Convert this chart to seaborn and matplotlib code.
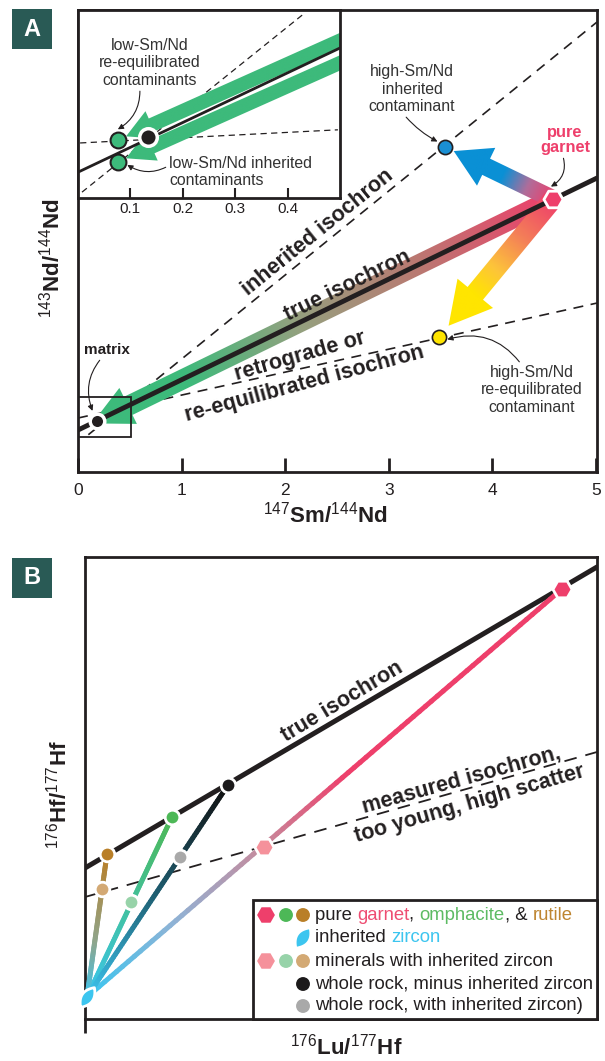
import numpy as np
import matplotlib
matplotlib.use("Agg")
import matplotlib.pyplot as plt
import seaborn as sns
from matplotlib.colors import LinearSegmentedColormap
from matplotlib.patches import Polygon, Rectangle
from matplotlib.collections import LineCollection
from matplotlib.markers import MarkerStyle
from matplotlib.transforms import Affine2D
from matplotlib.path import Path

# ---------------- panel A: Sm-Nd isochron (y in arbitrary units) ----------------
a_xlim = [0, 5.01]
a_ylim = [0, 4.46]
a_xticks = [0, 1, 2, 3, 4, 5]
matrix_pt = [0.18, 0.49]
garnet_pt = [4.585, 2.635]
inh_contam_pt = [3.54, 3.14]
reeq_contam_pt = [3.485, 1.30]
true_iso_x = [0, 5.01]
true_iso_y = [0.405, 2.838]
inh_iso_x = [0.1, 5.01]
inh_iso_y = [0.36, 4.344]
retro_iso_x = [0, 5.01]
retro_iso_y = [0.521, 1.631]
zoom_box_x = [0, 0.51]
zoom_box_y = [0.338, 0.724]

# inset = zoom of the small box
ins_xlim = [0, 0.5]
ins_ylim = [0.338, 0.724]
ins_xticks = [0.1, 0.2, 0.3, 0.4]
ins_matrix = [0.134, 0.463]
ins_reeq = [0.076, 0.457]
ins_inh = [0.076, 0.412]
ins_true_x = [0, 0.5]
ins_true_y = [0.391, 0.646]
ins_inh_x = [0.0076, 0.433]
ins_inh_y = [0.350, 0.718]
ins_retro_x = [0.004, 0.496]
ins_retro_y = [0.451, 0.478]
ins_arrow_from = [[0.52, 0.671], [0.52, 0.625]]

# ---------------- panel B: Lu-Hf (arbitrary units) ----------------
b_xlim = [0, 5.12]
b_ylim = [0, 4.62]
zircon_pt = [0.02, 0.22]
pure_x = [4.77, 0.87, 0.22]        # garnet, omphacite, rutile
pure_y = [4.30, 2.02, 1.65]
mixed_x = [1.79, 0.46, 0.17]
mixed_y = [1.72, 1.17, 1.30]
wr_pt = [1.43, 2.34]
wr_mixed_pt = [0.95, 1.62]
b_true_x = [0, 5.12]
b_true_y = [1.51, 4.52]
b_meas_x = [0, 5.12]
b_meas_y = [1.22, 2.67]

PINK = '#EE3F6B'
GREEN_A = '#3DBA7B'
BLUE_A = '#0A90D5'
YELLOW = '#FFE500'
INK = '#231F20'
GREY_T = '#333333'
pure_cols = ['#EE3F6B', '#4DB857', '#B97F28']
mixed_cols = ['#F5919B', '#97D3A9', '#D3A974']
ZIRC = '#3CC5EF'

sns.set_theme(style='white')
plt.rcParams['font.family'] = ['Liberation Sans', 'DejaVu Sans']
plt.rcParams['mathtext.fontset'] = 'custom'
plt.rcParams['mathtext.rm'] = 'Liberation Sans'
plt.rcParams['mathtext.bf'] = 'Liberation Sans:bold'

W, H = 605, 1061
fig = plt.figure(figsize=(W / 100, H / 100), dpi=100)
renderer = fig.canvas.get_renderer()


def box(x0, y0, x1, y1):
    return [x0 / W, 1 - y1 / H, (x1 - x0) / W, (y1 - y0) / H]


def F(px, py):
    return (px / W, 1 - py / H)


def grad_arrow(ax, tail, target, gap, shaft, head_w, head_l, stops, z=2):
    T = ax.transData
    p0 = T.transform(tail)
    pt = T.transform(target)
    d = pt - p0
    u = d / np.hypot(*d)
    p1 = pt - u * gap
    L = np.hypot(*(p1 - p0))
    n = np.array([-u[1], u[0]])
    base = p1 - u * head_l
    pts = [p0 + n * shaft / 2, base + n * shaft / 2, base + n * head_w / 2, p1,
           base - n * head_w / 2, base - n * shaft / 2, p0 - n * shaft / 2]
    poly = Polygon(T.inverted().transform(pts), closed=True, fc='none', ec='none')
    ax.add_patch(poly)
    cmap = LinearSegmentedColormap.from_list('g', stops)
    x0, x1 = ax.get_xlim()
    y0, y1 = ax.get_ylim()
    gx, gy = np.meshgrid(np.linspace(x0, x1, 500), np.linspace(y0, y1, 500))
    disp = T.transform(np.column_stack([gx.ravel(), gy.ravel()]))
    t = (((disp - p0) @ u) / L).clip(0, 1).reshape(gx.shape)
    img = ax.imshow(cmap(t), extent=(x0, x1, y0, y1), origin='lower', aspect='auto',
                    zorder=z, interpolation='bilinear')
    img.set_clip_path(poly)
    ax.set_xlim(x0, x1)
    ax.set_ylim(y0, y1)


def grad_line(ax, p0, p1, stops, lw=3.6, z=2):
    n = 80
    xs = np.linspace(p0[0], p1[0], n + 1)
    ys = np.linspace(p0[1], p1[1], n + 1)
    segs = np.stack([np.column_stack([xs[:-1], ys[:-1]]),
                     np.column_stack([xs[1:], ys[1:]])], axis=1)
    cmap = LinearSegmentedColormap.from_list('l', stops)
    cols = cmap(np.linspace(0, 1, n))
    ax.add_collection(LineCollection(segs, colors=cols, linewidths=lw,
                                     capstyle='round', zorder=z))


def style_axes(ax):
    for s in ax.spines.values():
        s.set_color(INK)
        s.set_linewidth(2)
        s.set_visible(True)
    ax.set_facecolor('white')


def text_w(s, size):
    t = fig.text(0, 0, s + '|', fontsize=size)
    w = t.get_window_extent(renderer).width
    t.remove()
    return w


arrow_kw = dict(arrowstyle='-|>', lw=0.8, color=INK, mutation_scale=8,
                shrinkA=0, shrinkB=0)
LAB = 15.5
NOTE = 11.4

# ====================== panel A ======================
ax_a = fig.add_axes(box(78, 10, 597, 472))
style_axes(ax_a)
ax_a.set_xlim(a_xlim)
ax_a.set_ylim(a_ylim)

grad_arrow(ax_a, garnet_pt, matrix_pt, -5, 20, 40, 40,
           [(0, PINK), (0.3, '#B97A72'), (0.55, '#96A07F'), (0.8, GREEN_A), (1, GREEN_A)], z=2)
grad_arrow(ax_a, garnet_pt, inh_contam_pt, 10, 18, 42, 36,
           [(0, PINK), (0.25, '#B06D9A'), (0.5, BLUE_A), (1, BLUE_A)], z=2)
grad_arrow(ax_a, garnet_pt, reeq_contam_pt, 15, 20, 46, 42,
           [(0, PINK), (0.3, '#F47F58'), (0.55, '#FDC43A'), (0.75, YELLOW), (1, YELLOW)], z=2)

ax_a.plot(inh_iso_x, inh_iso_y, color=INK, lw=1.2, ls=(0, (6, 4.5)), zorder=1)
ax_a.plot(retro_iso_x, retro_iso_y, color=INK, lw=1.2, ls=(0, (6, 4.5)), zorder=1)
sns.lineplot(x=true_iso_x, y=true_iso_y, ax=ax_a, color=INK, lw=3.5, zorder=3)
ax_a.add_patch(Rectangle((zoom_box_x[0], zoom_box_y[0]), zoom_box_x[1] - zoom_box_x[0],
                         zoom_box_y[1] - zoom_box_y[0], fc='none', ec=INK, lw=1.3, zorder=4))

sns.scatterplot(x=[matrix_pt[0]], y=[matrix_pt[1]], ax=ax_a, color=INK, s=110,
                edgecolor='white', linewidth=2.5, zorder=6)
sns.scatterplot(x=[inh_contam_pt[0]], y=[inh_contam_pt[1]], ax=ax_a, color='#1A8FD3', s=105,
                edgecolor=INK, linewidth=1.2, zorder=6)
sns.scatterplot(x=[reeq_contam_pt[0]], y=[reeq_contam_pt[1]], ax=ax_a, color=YELLOW, s=105,
                edgecolor=INK, linewidth=1.2, zorder=6)
sns.scatterplot(x=[garnet_pt[0]], y=[garnet_pt[1]], ax=ax_a, color=PINK, s=190, marker='H',
                edgecolor='white', linewidth=2, zorder=6)

ax_a.set_xticks(a_xticks)
ax_a.set_xticklabels([str(v) for v in a_xticks], fontsize=12.5, color=INK)
ax_a.set_yticks([])
ax_a.tick_params(axis='x', bottom=True, direction='in', length=10, width=2, pad=8, colors=INK)
ax_a.set_xlabel('')
ax_a.set_ylabel('')

# line labels
fig.text(*F(318, 232), 'inherited isochron', rotation=39, fontsize=LAB, fontweight='bold',
         ha='center', va='center', rotation_mode='anchor', color=INK)
fig.text(*F(348, 286), 'true isochron', rotation=26, fontsize=LAB, fontweight='bold',
         ha='center', va='center', rotation_mode='anchor', color=INK)
fig.text(*F(300, 356), 'retrograde or', rotation=16, fontsize=LAB, fontweight='bold',
         ha='center', va='center', rotation_mode='anchor', color=INK)
fig.text(*F(305, 384), 're-equilibrated isochron', rotation=15, fontsize=LAB, fontweight='bold',
         ha='center', va='center', rotation_mode='anchor', color=INK)

ax_a.annotate('matrix', xy=(matrix_pt[0] - 0.04, matrix_pt[1] + 0.1), xytext=F(107, 350),
              textcoords='figure fraction', fontsize=11, fontweight='bold', ha='center',
              va='center', color=INK,
              arrowprops=dict(arrow_kw, connectionstyle='arc3,rad=0.3', relpos=(0.4, 0)))
ax_a.annotate('pure\ngarnet', xy=(garnet_pt[0] - 0.02, garnet_pt[1] + 0.12), xytext=F(565, 140),
              textcoords='figure fraction', fontsize=11.8, fontweight='bold', ha='center',
              va='center', color=PINK, linespacing=1.0,
              arrowprops=dict(arrow_kw, connectionstyle='arc3,rad=-0.4', relpos=(0.45, 0)))
ax_a.annotate('high-Sm/Nd\ninherited\ncontaminant', xy=(inh_contam_pt[0] - 0.07, inh_contam_pt[1] + 0.05),
              xytext=F(412, 89), textcoords='figure fraction', fontsize=NOTE, ha='center',
              va='center', color=GREY_T, linespacing=1.2,
              arrowprops=dict(arrow_kw, connectionstyle='arc3,rad=0.1', relpos=(0.4, 0)))
ax_a.annotate('high-Sm/Nd\nre-equilibrated\ncontaminant', xy=(reeq_contam_pt[0] + 0.08, reeq_contam_pt[1] - 0.02),
              xytext=F(532, 390), textcoords='figure fraction', fontsize=NOTE, ha='center',
              va='center', color=GREY_T, linespacing=1.2,
              arrowprops=dict(arrow_kw, connectionstyle='arc3,rad=0.35', relpos=(0.4, 1)))

# ====================== inset ======================
ax_in = fig.add_axes(box(78, 10, 340, 198), zorder=5)
style_axes(ax_in)
ax_in.set_xlim(ins_xlim)
ax_in.set_ylim(ins_ylim)
for src, dst in zip(ins_arrow_from, [ins_reeq, ins_inh]):
    grad_arrow(ax_in, src, dst, 9, 14, 30, 28, [(0, GREEN_A), (1, GREEN_A)], z=2)
ax_in.plot(ins_inh_x, ins_inh_y, color=INK, lw=0.9, ls=(0, (5, 3.5)), zorder=1)
ax_in.plot(ins_retro_x, ins_retro_y, color=INK, lw=0.9, ls=(0, (5, 3.5)), zorder=1)
sns.lineplot(x=ins_true_x, y=ins_true_y, ax=ax_in, color=INK, lw=2, zorder=3)
sns.scatterplot(x=[ins_reeq[0], ins_inh[0]], y=[ins_reeq[1], ins_inh[1]], ax=ax_in,
                color=GREEN_A, s=130, edgecolor=INK, linewidth=1.5, zorder=6)
sns.scatterplot(x=[ins_matrix[0]], y=[ins_matrix[1]], ax=ax_in, color=INK, s=160,
                edgecolor='white', linewidth=2.5, zorder=6)
ax_in.set_xticks(ins_xticks)
ax_in.set_xticklabels([f'{v:.1f}' for v in ins_xticks], fontsize=11, color=INK)
ax_in.set_yticks([])
ax_in.tick_params(axis='x', bottom=True, direction='in', length=7, width=1.5, pad=3, colors=INK)
ax_in.set_xlabel('')
ax_in.set_ylabel('')
ax_in.set_xlim(ins_xlim)
ax_in.set_ylim(ins_ylim)

ax_in.annotate('low-Sm/Nd\nre-equilibrated\ncontaminants', xy=(ins_reeq[0], ins_reeq[1] + 0.022),
               xytext=F(150, 63), textcoords='figure fraction', fontsize=NOTE, ha='center',
               va='center', color=GREY_T, linespacing=1.2,
               arrowprops=dict(arrow_kw, connectionstyle='arc3,rad=-0.3', relpos=(0.4, 0)))
ax_in.annotate('low-Sm/Nd inherited\ncontaminants', xy=(ins_inh[0] + 0.018, ins_inh[1] - 0.006),
               xytext=F(169, 172), textcoords='figure fraction', fontsize=NOTE, ha='left',
               va='center', color=GREY_T, linespacing=1.2,
               arrowprops=dict(arrow_kw, connectionstyle='arc3,rad=-0.3', relpos=(0, 0.7)))

# axis titles A
fig.text(*F(325, 515), r'$^{147}$Sm/$^{144}$Nd', fontsize=16, fontweight='bold',
         ha='center', va='center', color=INK)
fig.text(*F(52, 258), r'$^{143}$Nd/$^{144}$Nd', fontsize=16, fontweight='bold', rotation=90,
         ha='center', va='center', color=INK)

# ====================== panel B ======================
ax_b = fig.add_axes(box(85, 557, 597, 1019))
style_axes(ax_b)
ax_b.set_xlim(b_xlim)
ax_b.set_ylim(b_ylim)

sns.lineplot(x=b_true_x, y=b_true_y, ax=ax_b, color=INK, lw=3.6, zorder=2)
ax_b.plot(b_meas_x, b_meas_y, color=INK, lw=1.3, ls=(0, (7, 5)), zorder=2)

line_stops = [
    [(0, ZIRC), (0.18, '#8FB3D6'), (0.37, '#C68A9C'), (0.55, PINK), (1, PINK)],
    [(0, ZIRC), (0.45, '#40C2A8'), (1, pure_cols[1])],
    [(0, ZIRC), (0.4, '#8FA58C'), (1, pure_cols[2])],
]
for px, py, st in zip(pure_x, pure_y, line_stops):
    grad_line(ax_b, zircon_pt, (px, py), st, lw=3.6, z=3)
grad_line(ax_b, zircon_pt, wr_pt, [(0, ZIRC), (0.5, '#1E5D70'), (1, '#111111')], lw=3.6, z=3)

markers = ['H', 'o', 'o']
sizes = [190, 110, 110]
for i in range(3):
    sns.scatterplot(x=[pure_x[i]], y=[pure_y[i]], ax=ax_b, color=pure_cols[i], marker=markers[i],
                    s=sizes[i], edgecolor='white', linewidth=2, zorder=6)
    sns.scatterplot(x=[mixed_x[i]], y=[mixed_y[i]], ax=ax_b, color=mixed_cols[i], marker=markers[i],
                    s=sizes[i], edgecolor='white', linewidth=2, zorder=6)
sns.scatterplot(x=[wr_pt[0]], y=[wr_pt[1]], ax=ax_b, color='#1C1A1B', s=110,
                edgecolor='white', linewidth=2, zorder=6)
sns.scatterplot(x=[wr_mixed_pt[0]], y=[wr_mixed_pt[1]], ax=ax_b, color='#A9A9A9', s=110,
                edgecolor='white', linewidth=2, zorder=6)

# zircon: lens-shaped marker
yy = np.linspace(-1, 1, 21)
right = np.column_stack([0.5 * (1 - yy ** 2), yy])
left = np.column_stack([-0.5 * (1 - yy[::-1] ** 2), yy[::-1]])
lens = Path(np.vstack([right, left[1:]]), closed=False)
zmark = MarkerStyle(lens, transform=Affine2D().rotate_deg(-35))
ax_b.scatter([zircon_pt[0]], [zircon_pt[1]], marker=zmark, s=300, color=ZIRC,
             edgecolor='white', linewidth=2, zorder=6, clip_on=False)

ax_b.set_xticks([0])
ax_b.set_xticklabels([''])
ax_b.set_yticks([])
ax_b.tick_params(axis='x', bottom=True, direction='out', length=10, width=2, colors=INK)
ax_b.set_xlabel('')
ax_b.set_ylabel('')
ax_b.set_xlim(b_xlim)
ax_b.set_ylim(b_ylim)

fig.text(*F(342, 702), 'true isochron', rotation=31, fontsize=LAB, fontweight='bold',
         ha='center', va='center', rotation_mode='anchor', color=INK)
fig.text(*F(461, 780), 'measured isochron,', rotation=15.5, fontsize=LAB, fontweight='bold',
         ha='center', va='center', rotation_mode='anchor', color=INK)
fig.text(*F(470, 804), 'too young, high scatter', rotation=16, fontsize=LAB, fontweight='bold',
         ha='center', va='center', rotation_mode='anchor', color=INK)

# legend box
ax_b.add_patch(Rectangle(F(253, 1019), (597 - 253) / W, (1019 - 900) / H, transform=fig.transFigure,
                         fc='white', ec=INK, lw=2, zorder=8, clip_on=False))
leg_rows = [915, 938, 961, 984, 1006]
leg_x = [266, 286, 303]


def leg_mark(px, py, color, marker='o', s=100):
    ax_b.scatter([px / W], [1 - py / H], transform=fig.transFigure, marker=marker, s=s,
                 color=color, edgecolor='none', zorder=9, clip_on=False)


leg_mark(leg_x[0], leg_rows[0], pure_cols[0], 'H', 165)
leg_mark(leg_x[1], leg_rows[0], pure_cols[1])
leg_mark(leg_x[2], leg_rows[0], pure_cols[2])
leg_mark(leg_x[2], leg_rows[1], ZIRC, zmark, 230)
leg_mark(leg_x[0], leg_rows[2], mixed_cols[0], 'H', 165)
leg_mark(leg_x[1], leg_rows[2], mixed_cols[1])
leg_mark(leg_x[2], leg_rows[2], mixed_cols[2])
leg_mark(leg_x[2], leg_rows[3], '#1C1A1B')
leg_mark(leg_x[2], leg_rows[4], '#A9A9A9')

leg_text = [
    [('pure ', INK), ('garnet', '#EE4D72'), (', ', INK), ('omphacite', '#5DBB63'),
     (', & ', INK), ('rutile', '#BE8530')],
    [('inherited ', INK), ('zircon', ZIRC)],
    [('minerals with inherited zircon', INK)],
    [('whole rock, minus inherited zircon', INK)],
    [('whole rock, with inherited zircon)', INK)],
]
LEG = 13.3
bar = text_w('', LEG)
for row, pieces in zip(leg_rows, leg_text):
    x = 315
    for s, c in pieces:
        fig.text(x / W, 1 - row / H, s, color=c, fontsize=LEG, va='center', ha='left', zorder=10)
        x += text_w(s, LEG) - bar

fig.text(*F(346, 1047), r'$^{176}$Lu/$^{177}$Hf', fontsize=16, fontweight='bold',
         ha='center', va='center', color=INK)
fig.text(*F(59, 795), r'$^{176}$Hf/$^{177}$Hf', fontsize=16, fontweight='bold', rotation=90,
         ha='center', va='center', color=INK)

# panel letters
for lab, top in [('A', 9), ('B', 558)]:
    fig.patches.append(Rectangle(F(12, top + 40), 40 / W, 40 / H, transform=fig.transFigure,
                                 fc='#295A55', ec='none', figure=fig))
    fig.text(*F(32, top + 20), lab, color='white', fontsize=17, fontweight='bold',
             ha='center', va='center')

fig.savefig('out.png', dpi=100)
